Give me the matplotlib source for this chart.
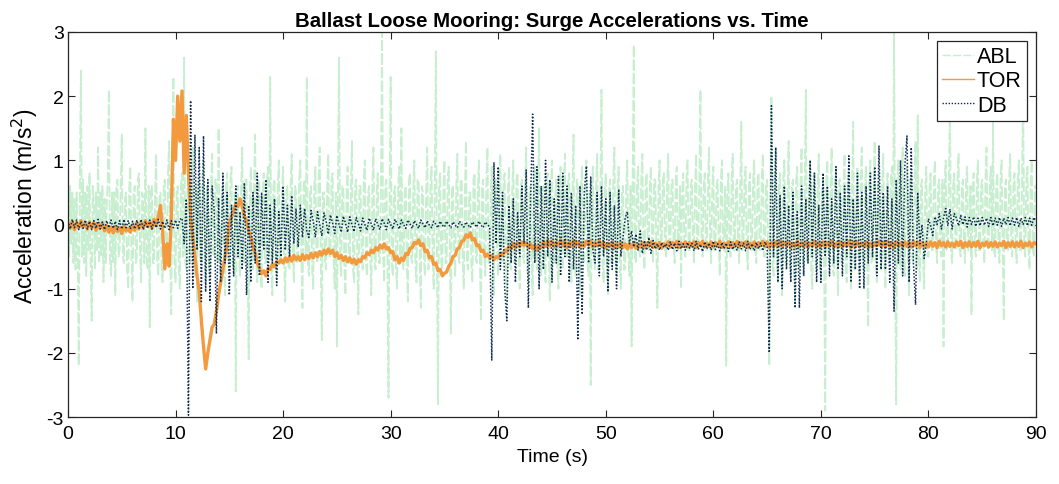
import numpy as np
import matplotlib
matplotlib.use("Agg")
import matplotlib.pyplot as plt

plt.rcParams['font.family'] = ['Liberation Sans', 'DejaVu Sans']
plt.rcParams['axes.unicode_minus'] = False

# sample spacing (s): ABL is logged twice as often as TOR / DB
dt_abl = 0.1
dt = 0.2

abl = [
    0.35, -0.5, 0.6, -0.3, 0.5, -0.6, 0.4, -0.7, 0.5, -0.4, -2.2, 0.6, 2.4, -0.5, 0.7, -0.6, 0.5, -0.8, 0.6, -0.4,
    0.8, -0.5, -1.5, 0.6, 0.4, -0.7, 0.5, -0.4, 1.2, -0.6, 0.5, -0.5, 0.6, -0.9, 0.4, -0.6, 0.3, 0.7, 2.1, -0.5,
    -0.8, 0.5, -0.6, 0.5, -1.1, 0.6, 0.7, -0.5, -0.4, 0.6, 1.4, -0.5, -0.6, 0.4, 0.5, -0.7, -1.0, 0.6, 0.9, -0.5,
    -1.2, 0.5, 0.6, -0.6, -0.5, 0.7, 0.8, -0.4, -0.9, 0.5, 0.4, -0.6, 1.5, -0.5, -0.7, 0.6, -1.6, 0.5, 0.6, -0.6,
    -0.6, 0.5, 1.1, -0.6, -0.8, 0.4, 0.5, -0.7, -0.9, 0.6, 0.7, -0.5, -0.5, 0.8, 1.3, -0.6, -1.4, 0.7, 2.3, -0.6,
    -0.9, 0.5, 0.6, -0.7, -1.0, 0.6, 0.8, -0.5, 2.6, -0.6, -0.7, 0.5, 0.9, -0.6, -0.6, 0.7, 1.2, -0.5, -0.8, 0.6,
    -1.2, 0.5, 0.7, -0.6, -0.6, 0.8, 1.0, -0.5, -0.9, 0.6, 0.5, -0.7, -0.8, 0.6, 1.1, -0.5, -0.5, 0.7, 0.7, -0.6,
    1.5, -0.6, -0.9, 0.5, 0.6, -0.7, -1.1, 0.6, 0.8, -0.5, -0.6, 0.7, 0.9, -0.6, -0.7, 0.5, -2.6, 0.6, 0.6, -0.5,
    -0.8, 0.6, 1.2, -0.5, -0.6, 0.7, 0.7, -0.6, -2.1, 0.5, 0.9, -0.6, -0.7, 0.6, 1.4, -0.5, -0.9, 0.7, 0.6, -0.6,
    -1.0, 0.5, 0.8, -0.6, -0.6, 0.7, 0.9, -0.5, 2.3, -0.7, -1.1, 0.6, 0.7, -0.5, -0.8, 0.6, 1.0, -0.6, -0.6, 0.5,
    0.9, -0.6, -1.2, 0.5, 0.6, -0.7, -0.7, 0.6, 1.1, -0.5, -0.9, 0.6, 0.5, -0.6, -0.6, 0.7, 1.0, -0.5, -1.3, 0.6,
    0.7, -0.5, 2.3, -0.6, -0.8, 0.5, 0.6, -0.7, -1.0, 0.6, 0.9, -0.5, -0.6, 0.7, 1.2, -0.6, -1.8, 0.5, 0.5, -0.6,
    -0.7, 0.6, 1.1, -0.5, -0.5, 0.7, 0.8, -0.6, -1.0, 0.5, -1.9, 0.6, 2.6, -0.5, -0.8, 0.6, 0.6, -0.7, -1.1, 0.5,
    0.9, -0.6, -0.6, 0.5, 1.3, -0.7, -0.9, 0.6, 0.7, -0.5, -1.4, 0.6, 0.6, -0.5, -0.7, 0.7, 1.0, -0.6, -0.8, 0.5,
    0.6, -0.5, -1.1, 0.6, 1.2, -0.6, -0.7, 0.5, 0.8, -0.6, -0.6, 0.7, 3.0, -0.5, -0.9, 0.6, 0.7, -0.6, -2.7, 0.5,
    2.3, -0.6, -0.8, 0.5, 0.6, -0.7, -1.0, 0.6, 0.9, -0.5, 1.5, -0.6, -0.7, 0.5, 0.6, -0.6, -1.2, 0.7, 0.8, -0.5,
    -0.6, 0.5, 1.0, -0.6, -0.9, 0.7, 0.7, -0.5, -1.3, 0.6, 0.5, -0.6, -0.8, 0.5, 1.2, -0.7, -0.6, 0.6, 0.9, -0.5,
    -1.0, 0.6, 2.7, -0.5, -2.8, 0.6, 0.8, -0.6, -0.7, 0.5, 1.0, -0.6, -0.6, 0.7, 0.9, -0.5, -1.7, 0.6, 0.6, -0.5,
    -0.8, 0.6, 1.1, -0.5, -0.6, 0.7, 0.7, -0.6, -1.0, 0.5, 1.3, -0.6, -0.7, 0.5, 0.5, -0.6, -0.9, 0.7, 0.8, -0.5,
    -0.6, 0.5, 1.0, -0.6, -1.5, 0.6, 0.7, -0.5, -0.8, 0.7, 1.2, -0.6, -0.6, 0.5, 0.9, -0.7, -1.1, 0.6, 0.7, -0.5,
    -0.8, 0.6, 1.1, -0.5, -0.6, 0.7, 0.8, -0.6, -1.2, 0.5, 0.9, -0.6, -0.7, 0.5, 1.0, -0.6, -0.5, 0.7, 0.8, -0.5,
    -1.0, 0.6, 0.7, -0.5, -0.6, 0.6, 1.2, -0.7, -0.9, 0.5, 0.6, -0.6, -1.1, 0.7, 0.9, -0.5, -0.7, 0.6, 1.5, -0.6,
    -0.8, 0.5, 0.6, -0.6, -0.9, 0.7, 0.8, -0.5, -1.2, 0.6, 1.0, -0.6, -0.6, 0.5, 0.7, -0.7, -1.0, 0.6, 0.9, -0.5,
    -0.7, 0.6, 1.1, -0.5, -0.5, 0.7, 0.8, -0.6, -0.9, 0.5, 1.4, -0.6, -0.8, 0.7, 0.6, -0.5, -1.1, 0.6, 0.9, -0.6,
    -0.6, 0.5, 1.0, -0.6, -0.8, 0.5, -2.5, 0.6, 0.9, -0.5, -0.7, 0.6, 1.1, -0.7, -0.6, 0.5, 2.1, -0.6, -0.9, 0.5,
    0.8, -0.6, -1.1, 0.5, 0.7, -0.6, -0.6, 0.7, 1.2, -0.5, -0.8, 0.6, 0.9, -0.6, -1.0, 0.5, 0.6, -0.7, -0.7, 0.6,
    1.0, -0.5, -0.8, 0.6, -1.9, 0.7, 2.8, -0.5, -0.6, 0.6, 0.9, -0.4, -0.5, 0.7, 1.1, -0.4, -0.7, 0.6, 0.8, -0.3,
    -0.4, 0.6, 0.9, -0.3, -0.6, 0.7, 0.7, -0.4, -1.3, 0.6, 1.0, -0.3, -0.3, 0.7, 0.8, -0.4, -0.5, 0.6, 1.1, -0.3,
    -0.4, 0.6, 0.7, -0.3, -0.6, 0.7, 0.9, -0.4, -0.3, 0.6, -1.0, 0.5, 0.8, -0.3, -0.5, 0.7, 1.0, -0.4, -0.4, 0.6,
    0.7, -0.3, -0.6, 0.6, 1.1, -0.4, -0.3, 0.7, 2.1, -0.3, -0.5, 0.6, 0.8, -0.4, -0.4, 0.7, 1.2, -0.3, -0.6, 0.6,
    0.9, -0.4, -0.3, 0.6, 0.7, -0.3, -0.8, 0.7, 1.0, -0.4, -0.4, 0.6, -2.2, 0.5, 0.8, -0.3, -0.5, 0.7, 1.1, -0.4,
    -0.4, 0.6, 0.7, -0.3, -0.6, 0.6, 1.6, -0.4, -0.3, 0.7, 0.9, -0.4, -0.7, 0.6, 0.8, -0.3, -0.4, 0.7, 1.0, -0.4,
    -0.6, 0.6, 0.8, -0.4, -0.4, 0.7, 1.1, -0.5, -0.5, 0.6, 0.7, -0.6, -2.2, 0.5, 2.0, -0.6, -0.8, 0.7, 1.2, -0.5,
    -0.9, 0.6, 0.8, -0.5, -1.1, 0.7, 1.0, -0.6, -0.6, 0.5, 1.3, -0.7, -0.8, 0.6, 0.7, -0.5, -1.2, 0.7, 0.9, -0.6,
    -0.7, 0.6, 1.2, -0.5, -0.8, 0.7, 2.1, -0.6, -0.6, 0.5, 1.0, -0.7, -1.0, 0.6, 0.8, -0.5, -0.7, 0.6, 1.1, -0.6,
    -0.9, 0.5, 0.7, -0.6, -2.9, 0.7, 1.0, -0.5, -0.6, 0.6, 1.2, -0.7, -0.8, 0.6, 0.9, -0.5, -1.1, 0.7, 0.7, -0.6,
    -0.6, 0.5, 1.1, -0.6, -0.9, 0.7, 0.8, -0.5, -1.0, 0.6, 1.6, -0.7, -0.7, 0.5, 0.9, -0.6, -0.8, 0.7, 1.2, -0.5,
    -0.7, 0.6, 0.9, -0.5, -1.6, 0.7, 1.0, -0.6, -0.6, 0.5, 1.3, -0.7, -0.9, 0.6, 0.8, -0.5, -0.7, 0.6, 1.1, -0.6,
    -1.0, 0.5, 0.8, -0.6, -0.6, 0.7, 0.9, -0.5, 3.0, -0.6, -2.8, 0.7, 1.0, -0.5, -0.7, 0.6, 1.2, -0.6, -0.8, 0.5,
    0.9, -0.6, -1.1, 0.7, 0.8, -0.5, -0.6, 0.6, 1.3, -0.7, 1.7, -0.5, -0.9, 0.6, 0.7, -0.6, -1.0, 0.5, 0.9, -0.5,
    -0.5, 0.6, 0.8, -0.4, -0.4, 0.7, 1.0, -0.3, -0.6, 0.6, 0.7, -0.4, -0.5, 0.7, -1.9, 0.6, 1.0, -0.4, -0.4, 0.7,
    1.9, -0.4, -0.6, 0.6, 0.8, -0.3, -0.4, 0.7, 1.1, -0.4, -0.5, 0.6, 0.7, -0.3, -0.6, 0.7, 0.9, -0.4, -0.3, 0.6,
    -1.4, 0.6, 0.8, -0.3, -0.5, 0.7, 1.0, -0.4, -0.4, 0.6, 0.7, -0.3, -0.6, 0.7, 1.2, -0.4, -0.3, 0.6, 0.9, -0.4,
    1.6, -0.4, -0.5, 0.6, 0.8, -0.3, -0.6, 0.7, 1.0, -0.4, -1.5, 0.6, 0.7, -0.3, -0.4, 0.7, 1.1, -0.4, -0.5, 0.6,
    0.8, -0.3, -0.6, 0.7, 1.0, -0.4, -0.4, 0.6, 2.1, -0.3, -0.5, 0.7, 0.9, -0.4, -0.7, 0.6, 1.0, -0.4, -0.5, 0.6,
    0.6,
]

tor = [
    0.02, -0.06, 0.05, -0.08, 0.03, -0.05, 0.06, -0.04, 0.02, -0.07,
    0.04, -0.05, 0.03, -0.09, 0.01, -0.06, 0.02, -0.1, -0.02, -0.12,
    -0.04, -0.13, -0.03, -0.11, -0.05, -0.14, -0.02, -0.1, -0.06, -0.12,
    -0.01, -0.09, 0.03, -0.07, 0.02, -0.05, 0.06, -0.03, 0.04, -0.06,
    0.08, -0.02, 0.12, 0.3, -0.1, -0.69, -0.3, -0.65, 0.1, 1.64,
    1.0, 2.0, 1.3, 2.08, 0.8, 1.7, 0.8, 0.1, -0.2, -0.5,
    -0.8, -1.05, -1.5, -1.9, -2.25, -2.0, -1.8, -1.6, -1.55, -1.35,
    -1.1, -0.9, -0.7, -0.5, -0.3, 0.0, 0.12, 0.2, 0.32, 0.28,
    0.4, 0.3, 0.13, 0.05, -0.1, -0.2, -0.35, -0.45, -0.6, -0.68,
    -0.77, -0.72, -0.8, -0.68, -0.7, -0.62, -0.66, -0.58, -0.6, -0.55,
    -0.6, -0.52, -0.58, -0.5, -0.57, -0.48, -0.55, -0.5, -0.56, -0.47,
    -0.55, -0.48, -0.53, -0.45, -0.52, -0.44, -0.5, -0.42, -0.48, -0.4,
    -0.46, -0.38, -0.45, -0.4, -0.5, -0.44, -0.53, -0.48, -0.56, -0.5,
    -0.58, -0.52, -0.6, -0.54, -0.62, -0.55, -0.58, -0.5, -0.52, -0.44,
    -0.47, -0.4, -0.44, -0.36, -0.4, -0.32, -0.37, -0.3, -0.38, -0.36,
    -0.44, -0.42, -0.55, -0.5, -0.6, -0.52, -0.56, -0.45, -0.47, -0.37,
    -0.36, -0.28, -0.3, -0.24, -0.33, -0.3, -0.42, -0.4, -0.52, -0.5,
    -0.62, -0.6, -0.72, -0.7, -0.8, -0.76, -0.74, -0.65, -0.6, -0.5,
    -0.48, -0.38, -0.36, -0.26, -0.25, -0.16, -0.2, -0.13, -0.24, -0.22,
    -0.33, -0.32, -0.42, -0.4, -0.5, -0.46, -0.52, -0.48, -0.55, -0.5,
    -0.52, -0.45, -0.48, -0.4, -0.42, -0.34, -0.38, -0.3, -0.36, -0.28,
    -0.34, -0.27, -0.33, -0.28, -0.36, -0.3, -0.38, -0.32, -0.4, -0.33,
    -0.36, -0.27, -0.34, -0.25, -0.33, -0.26, -0.35, -0.28, -0.32, -0.24,
    -0.33, -0.26, -0.36, -0.28, -0.34, -0.25, -0.33, -0.27, -0.35, -0.29,
    -0.34, -0.26, -0.32, -0.25, -0.35, -0.28, -0.33, -0.26, -0.34, -0.27,
    -0.36, -0.29, -0.34, -0.27, -0.37, -0.3, -0.35, -0.28, -0.36, -0.3,
    -0.38, -0.3, -0.36, -0.29, -0.37, -0.31, -0.35, -0.28, -0.36, -0.29,
    -0.34, -0.27, -0.36, -0.29, -0.35, -0.28, -0.37, -0.3, -0.34, -0.27,
    -0.35, -0.28, -0.33, -0.26, -0.36, -0.29, -0.34, -0.27, -0.35, -0.28,
    -0.34, -0.27, -0.36, -0.28, -0.33, -0.26, -0.35, -0.29, -0.34, -0.27,
    -0.35, -0.28, -0.34, -0.26, -0.36, -0.29, -0.33, -0.27, -0.35, -0.28,
    -0.34, -0.26, -0.35, -0.28, -0.33, -0.27, -0.36, -0.29, -0.34, -0.27,
    -0.35, -0.28, -0.33, -0.26, -0.34, -0.27, -0.36, -0.28, -0.35, -0.27,
    -0.34, -0.26, -0.35, -0.28, -0.33, -0.27, -0.36, -0.29, -0.34, -0.26,
    -0.35, -0.28, -0.34, -0.27, -0.36, -0.29, -0.33, -0.26, -0.35, -0.28,
    -0.34, -0.27, -0.35, -0.28, -0.33, -0.26, -0.36, -0.29, -0.34, -0.27,
    -0.35, -0.28, -0.34, -0.26, -0.36, -0.28, -0.33, -0.27, -0.35, -0.29,
    -0.34, -0.27, -0.36, -0.29, -0.35, -0.28, -0.33, -0.26, -0.34, -0.28,
    -0.35, -0.26, -0.34, -0.28, -0.36, -0.27, -0.33, -0.29, -0.35, -0.27,
    -0.34, -0.28, -0.35, -0.26, -0.33, -0.27, -0.36, -0.28, -0.34, -0.29,
    -0.35, -0.27, -0.34, -0.28, -0.36, -0.26, -0.33, -0.28, -0.35, -0.27,
    -0.34, -0.29, -0.35, -0.27, -0.33, -0.26, -0.36, -0.28, -0.34, -0.27,
    -0.35, -0.28, -0.34, -0.26, -0.36, -0.29, -0.33, -0.27, -0.35, -0.28,
    -0.34, -0.27, -0.35, -0.29, -0.33, -0.26, -0.36, -0.28, -0.34, -0.27,
    -0.35, -0.28, -0.34, -0.26, -0.36, -0.29, -0.33, -0.27, -0.35, -0.28,
    -0.3,
]

db = [
    0.06, -0.07, 0.08, -0.05, 0.07, -0.08, 0.05, -0.06, 0.07, -0.07,
    0.05, -0.08, 0.06, -0.06, 0.08, -0.07, 0.04, -0.08, 0.06, -0.05,
    0.07, -0.06, 0.05, -0.08, 0.06, -0.07, 0.08, -0.05, 0.06, -0.07,
    0.05, -0.07, 0.07, -0.06, 0.08, -0.08, 0.05, -0.06, 0.07, -0.07,
    0.06, -0.05, 0.08, -0.07, 0.05, -0.06, 0.07, -0.08, 0.06, -0.05,
    0.07, -0.06, 0.08, 0.1, -0.3, 0.4, -2.97, 1.93, -1.0, 1.4,
    -0.4, 1.2, -1.2, 1.38, -1.05, 0.7, -1.2, 0.6, 0.2, -1.7,
    0.4, -0.9, 0.8, -0.6, 0.5, -1.1, 0.3, -0.8, 0.6, -0.5,
    0.2, -0.7, 0.65, -1.1, 0.3, -0.9, 0.5, -0.6, 0.8, -0.8,
    0.5, -0.4, 0.7, -0.9, 0.3, -0.6, 0.4, -0.95, 0.2, -0.5,
    0.6, -0.4, 0.3, -0.5, 0.45, -0.3, 0.25, -0.35, 0.3, -0.2,
    0.25, -0.1, -0.2, 0.22, 0.05, -0.2, 0.2, 0.0, -0.18, 0.18,
    0.05, -0.15, 0.15, 0.02, -0.14, 0.14, 0.0, -0.12, 0.13, 0.02,
    -0.12, 0.12, 0.0, -0.11, 0.11, 0.01, -0.1, 0.1, 0.0, -0.09,
    0.1, 0.01, -0.09, 0.09, 0.0, -0.08, 0.09, 0.02, -0.08, 0.08,
    0.0, -0.07, 0.08, 0.01, -0.07, 0.07, 0.0, -0.06, 0.07, 0.01,
    -0.06, 0.06, 0.0, -0.06, 0.07, 0.01, -0.05, 0.06, -0.01, -0.05,
    0.05, 0.0, -0.05, 0.05, -0.01, -0.04, 0.05, 0.0, -0.05, 0.04,
    -0.01, -0.05, 0.05, 0.0, -0.04, 0.04, -0.01, -0.05, 0.04, 0.0,
    -0.04, 0.05, -0.01, -0.05, 0.04, 0.0, -0.04, -2.12, 0.97, -0.3,
    0.9, -0.7, 0.5, -1.0, -1.5, 0.3, -0.6, 0.4, -0.9, 0.2,
    -0.5, 0.6, -0.3, 0.85, -1.3, 0.3, 1.72, -0.6, 0.9, -1.0,
    0.6, -0.7, 1.0, -0.5, 0.7, -0.9, 0.4, -0.6, 0.75, -0.8,
    0.8, -0.5, 0.6, -0.9, 0.5, -0.7, 0.3, -1.8, 0.6, -1.4,
    0.5, 0.91, -0.6, 0.75, -0.4, -0.6, 0.5, -0.8, 0.6, -0.5,
    0.4, -1.05, 0.5, -0.7, 0.3, -1.0, 0.55, -0.5, -0.2, 0.1,
    0.2, -0.3, -0.1, -0.35, -0.15, -0.4, -0.1, -0.45, -0.25, -0.4,
    -0.2, -0.45, -0.25, -0.38, -0.3, -0.4, -0.28, -0.36, -0.3, -0.4,
    -0.27, -0.39, -0.29, -0.41, -0.26, -0.38, -0.3, -0.4, -0.28, -0.37,
    -0.29, -0.41, -0.26, -0.39, -0.31, -0.42, -0.27, -0.38, -0.29, -0.4,
    -0.26, -0.39, -0.3, -0.41, -0.28, -0.38, -0.29, -0.42, -0.27, -0.39,
    -0.3, -0.4, -0.27, -0.38, -0.29, -0.41, -0.26, -0.39, -0.3, -0.41,
    -0.28, -0.38, -0.29, -0.41, -0.27, -0.35, -2.0, 1.85, -0.5, 1.2,
    -0.9, 0.45, -1.0, 0.6, -0.7, 0.3, -0.9, 0.5, -1.3, 0.2,
    -1.3, 0.6, -0.8, 0.4, -0.6, 1.0, -0.5, 0.8, -0.9, 0.3,
    -0.9, 0.8, -0.5, 0.6, -0.8, 0.4, -0.6, 0.9, -0.7, 0.5,
    -0.8, 0.6, -0.5, 1.07, -0.9, 0.4, -0.7, 0.8, -1.0, 0.5,
    -1.0, 0.6, -0.6, 0.8, -0.5, 0.9, -0.8, 1.23, -0.7, 0.5,
    -0.7, 0.6, -0.9, 0.4, -1.35, 0.7, -0.6, 1.0, -0.8, 0.9,
    1.38, -0.9, 1.2, -0.6, -1.25, 0.5, -0.3, 0.0, -0.53, -0.3,
    0.09, -0.02, -0.17, 0.12, 0.0, 0.17, -0.07, 0.1, 0.25, -0.02,
    0.24, -0.07, 0.17, 0.1, -0.02, 0.14, 0.0, 0.12, -0.04, 0.11,
    0.0, 0.12, -0.03, 0.1, -0.02, 0.11, -0.01, 0.1, -0.03, 0.11,
    -0.02, 0.1, -0.01, 0.11, -0.03, 0.1, 0.0, 0.11, -0.02, 0.1,
    -0.01, 0.11, -0.03, 0.1, 0.0, 0.11, -0.02, 0.1, -0.01, 0.11,
    0.05,
]

t_abl = np.arange(len(abl)) * dt_abl
t = np.arange(len(tor)) * dt

fig = plt.figure(figsize=(10.59, 4.85), dpi=100)
ax = fig.add_axes([0.0642, 0.138, 0.9141, 0.794])

ax.plot(t_abl, abl, color='#c6eecf', lw=1.3, ls=(0, (6, 1.5)), label='ABL')
ax.plot(t, tor, color='#f39a3e', lw=2.4, label='TOR')
ax.plot(t, db, color='#0d2a4f', lw=1.1, ls=(0, (1, 1.2)), label='DB')

ax.set_xlim(0, 90)
ax.set_ylim(-3, 3)
ax.set_xticks(np.arange(0, 91, 10))
ax.set_yticks(np.arange(-3, 4, 1))
ax.tick_params(direction='in', top=True, right=True, length=5, width=0.8,
               labelsize=14, color='#262626', pad=3)
ax.tick_params(axis='x', pad=6)
for s in ax.spines.values():
    s.set_color('#262626')
    s.set_linewidth(0.9)

ax.set_title('Ballast Loose Mooring: Surge Accelerations vs. Time',
             fontsize=14.7, fontweight='bold', pad=4)
ax.set_xlabel('Time (s)', fontsize=14, labelpad=4)
ax.set_ylabel('Acceleration (m/s$^2$)', fontsize=16.5)
ax.yaxis.set_label_coords(-0.029, 0.55)

leg = ax.legend(loc='upper right', bbox_to_anchor=(0.9907, 0.977),
                fontsize=15.5, fancybox=False, framealpha=1, edgecolor='#262626',
                borderpad=0.25, labelspacing=0.15, handlelength=1.45,
                handletextpad=0.15, borderaxespad=0)
leg.get_frame().set_linewidth(0.9)
for h in leg.legend_handles:
    h.set_linewidth(1.0)

fig.savefig('out.png', dpi=100)
